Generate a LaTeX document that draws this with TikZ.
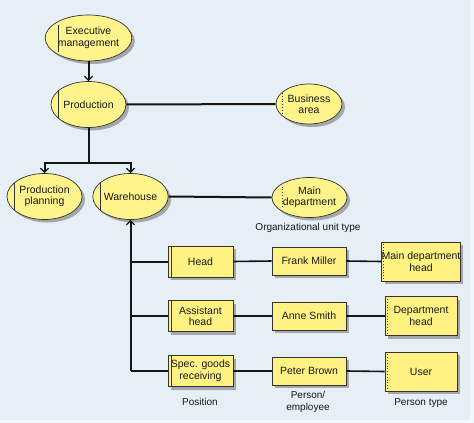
\documentclass[tikz,border=0pt]{standalone}
\usepackage{fontspec}
\setmainfont{Liberation Sans}
\usetikzlibrary{shapes.geometric,shadows,calc,arrows.meta}
\definecolor{bgc}{HTML}{E6EEF6}
\definecolor{yel}{HTML}{FFF38C}
\definecolor{ybox}{HTML}{FFF282}
\definecolor{shdcol}{HTML}{A4A8AC}
\definecolor{ln}{HTML}{151515}
\begin{document}
\begin{tikzpicture}[x=1pt,y=-1pt,
  every node/.style={font=\fontsize{10.5}{11.5}\selectfont, text=black!90},
  shdw/.style={drop shadow={shadow xshift=3pt,shadow yshift=-3pt,fill=shdcol,opacity=1}},
  ou/.style={ellipse,draw=black!80,line width=0.7pt,fill=yel,shdw,inner sep=0pt,align=center,minimum width=75pt,minimum height=46pt},
  oty/.style={ou,minimum width=66pt,minimum height=40pt},
  posbox/.style={rectangle,draw=black!80,line width=0.7pt,fill=ybox,shdw,inner sep=0pt,align=center,minimum width=65pt,minimum height=31pt},
  perbox/.style={posbox,minimum width=74pt,minimum height=28pt},
  typbox/.style={posbox,minimum width=72pt,minimum height=39pt},
  conn/.style={draw=ln,line width=2pt},
  thinconn/.style={draw=ln,line width=1.6pt},
  arr/.style={conn,-{Straight Barb[length=4pt,width=8pt,line width=1.3pt]}},
  lbltxt/.style={font=\fontsize{10}{11.5}\selectfont, align=center}
]
\useasboundingbox (0,0) rectangle (474,423);
\fill[white!60!bgc] (0,0) rectangle (474,423);
\fill[bgc] (0,0) rectangle (470,420);

% organizational units
\node[ou] (exec) at (88.5,38) {Executive\\management};
\node[ou] (prod) at (88.5,104.5) {Production};
\node[oty] (ba) at (309,104) {Business\\area};
\node[ou] (plan) at (44.5,196.5) {Production\\planning};
\node[ou] (wh) at (130.5,196.5) {Warehouse};
\node[oty] (md) at (309.5,197.5) {Main\\department};
\node[lbltxt] (lbl1) at (308,228) {Organizational unit type};

% inner marks
\draw[black!80,line width=0.7pt] ($(exec.center)+(-30.5,-13.5)$) -- ($(exec.center)+(-30.5,13.5)$);
\draw[black!80,line width=0.7pt] ($(prod.center)+(-30.5,-13.5)$) -- ($(prod.center)+(-30.5,13.5)$);
\draw[black!80,line width=0.7pt] ($(plan.center)+(-30,-13.5)$) -- ($(plan.center)+(-30,13.5)$);
\draw[black!80,line width=0.7pt] ($(wh.center)+(-30,-13.5)$) -- ($(wh.center)+(-30,13.5)$);
\draw[black!80,line width=0.8pt,dotted] ($(ba.center)+(-27,-11)$) -- ($(ba.center)+(-27,11)$);
\draw[black!80,line width=0.8pt,dotted] ($(md.center)+(-27,-11)$) -- ($(md.center)+(-27,11)$);

% positions
\node[posbox] (head) at (200.5,261.5) {Head};
\node[posbox] (asst) at (200.5,316) {Assistant\\head};
\node[posbox] (spec) at (200.5,371) {Spec. goods\\receiving};
\foreach \n in {head,asst,spec}{
  \draw[black!80,line width=0.7pt] ($(\n.north west)+(4,0)$) -- ($(\n.south west)+(4,0)$);
}
\node[lbltxt] (lbl2) at (200,402) {Position};

% persons
\node[perbox] (frank) at (309,261) {Frank Miller};
\node[perbox] (anne) at (309,316) {Anne Smith};
\node[perbox] (peter) at (309,371) {Peter Brown};
\node[lbltxt,font=\fontsize{10}{12}\selectfont] (lbl3) at (308,402) {Person/\\employee};

% person types
\node[typbox] (mdh) at (421,261.5) {Main department\\head};
\node[typbox] (dh) at (421,316) {Department\\head};
\node[typbox] (usr) at (421,371.5) {User};
\foreach \n in {mdh,dh,usr}{
  \draw[black!80,line width=0.8pt,dotted] ($(\n.north west)+(2.5,0)$) -- ($(\n.south west)+(2.5,0)$);
}
\node[lbltxt] (lbl4) at (421,403) {Person type};

% connectors
\draw[arr] (exec.south) -- (prod.north);
\draw[conn] (prod.east) -- (ba.west);
\coordinate (j) at (88.5,163);
\draw[conn] (prod.south) -- (j);
\draw[arr] (j) -| (plan.north);
\draw[arr] (j) -| (wh.north);
\draw[conn] (wh.east) -- (md.west);

\coordinate (b1) at (wh.south |- head.west);
\coordinate (b2) at (wh.south |- asst.west);
\coordinate (b3) at (wh.south |- spec.west);
\draw[arr] (b3) -- (wh.south);
\draw[conn] (b1) -- (head.west);
\draw[conn] (b2) -- (asst.west);
\draw[conn] (b3) -- (spec.west);

\draw[thinconn] (head.east) -- (frank.west);
\draw[thinconn] (asst.east) -- (anne.west);
\draw[thinconn] (spec.east) -- (peter.west);
\draw[thinconn] (frank.east) -- (mdh.west);
\draw[thinconn] (anne.east) -- (dh.west);
\draw[thinconn] (peter.east) -- (usr.west);
\end{tikzpicture}
\end{document}
